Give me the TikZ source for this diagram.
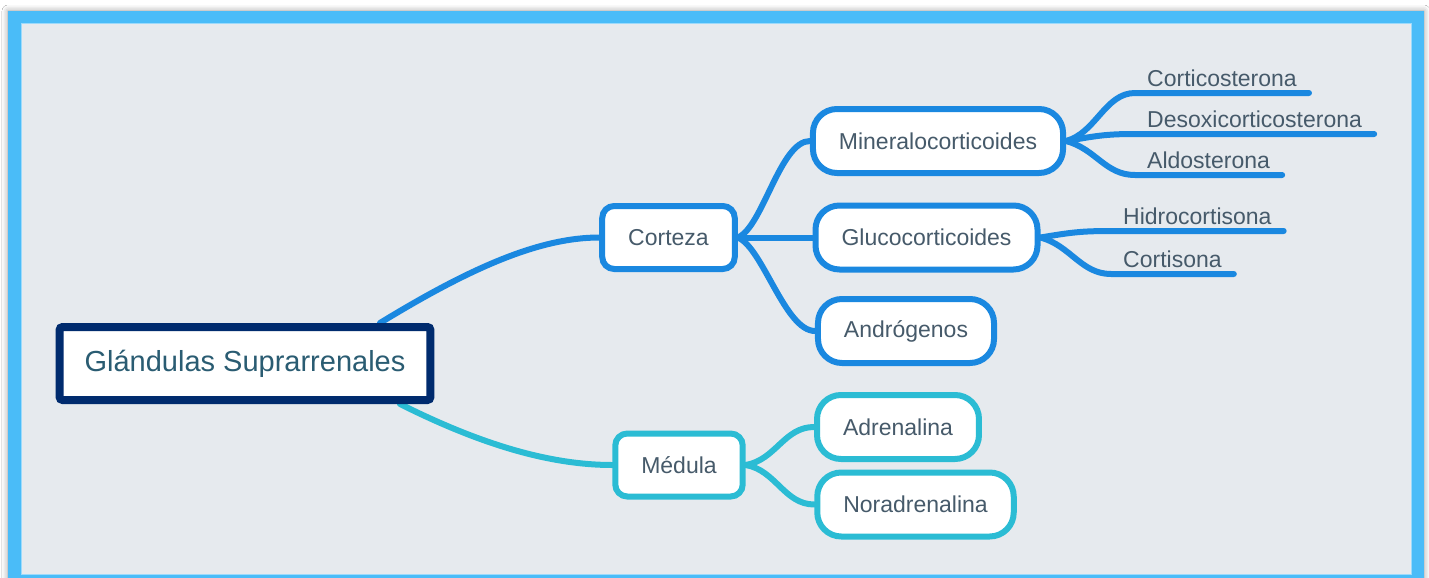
\documentclass[tikz,border=0pt]{standalone}
\usepackage{fontspec}
\setmainfont{Liberation Sans}
\usepackage{tikz}
\usetikzlibrary{positioning,shadows.blur}
\definecolor{frameblue}{HTML}{4ABCF8}
\definecolor{paper}{HTML}{E6EAEE}
\definecolor{cortexblue}{HTML}{1A88E0}
\definecolor{medcyan}{HTML}{2BBCD4}
\definecolor{rootnavy}{HTML}{002B6E}
\definecolor{ink}{HTML}{465A6A}
\definecolor{rootink}{HTML}{2A5C72}
\pgfdeclarelayer{back}
\pgfdeclarelayer{links}
\pgfsetlayers{back,links,main}
\tikzstyle{link} = [line width=6pt, line cap=round]
\tikzstyle{rootbox} = [
    rectangle, rounded corners=3pt, draw=rootnavy, line width=8pt, fill=white,
    text=rootink, inner xsep=25pt, minimum height=73pt, font=\fontsize{29}{34}\selectfont]
\tikzstyle{branch} = [
    rectangle, rounded corners=12pt, line width=6pt, fill=white, text=ink,
    inner xsep=26pt, minimum height=63pt, font=\fontsize{23}{27}\selectfont]
\tikzstyle{sub} = [branch, rounded corners=24pt, minimum height=64pt]
\tikzstyle{leaf} = [
    anchor=south west, text=ink, inner xsep=12pt, inner ysep=6.5pt, text depth=0pt,
    font=\fontsize{23}{27}\selectfont]

\begin{document}
\begin{tikzpicture}[x=1pt, y=-1pt]
\useasboundingbox (0,0) rectangle (1429,578);
\begin{pgfonlayer}{back}
\fill[white] (0,0) rectangle (1429,578);
\fill[frameblue, blur shadow={shadow xshift=0pt, shadow yshift=0pt, shadow blur radius=6pt, shadow opacity=40}] (8,11) rectangle (1424,600);
\fill[paper] (21,24) rectangle (1411,574);
\draw[white!45!frameblue, line width=1pt] (21,24) rectangle (1411,574);
\end{pgfonlayer}

\node (root) [rootbox] at (245,363.5) {Glándulas Suprarrenales};

\node (corteza) [branch, draw=cortexblue] at (668.5,237.5) {Corteza};
\node (medula) [branch, draw=medcyan] at (679,465) {Médula};

\node (mineral) [sub, draw=cortexblue] at (938,141) {Mineralocorticoides};
\node (gluco) [sub, draw=cortexblue] at (926.5,237.5) {Glucocorticoides};
\node (andro) [sub, draw=cortexblue] at (906,331) {Andrógenos};
\node (adren) [sub, draw=medcyan] at (898,427) {Adrenalina};
\node (noradren) [sub, draw=medcyan] at (915.5,504.5) {Noradrenalina};

\node (cortico) [leaf] at (1135,93) {Corticosterona};
\node (desoxi) [leaf] at (1135,134) {Desoxicorticosterona};
\node (aldo) [leaf] at (1135,175) {Aldosterona};
\node (hidro) [leaf] at (1111,231) {Hidrocortisona};
\node (cortis) [leaf] at (1111,274) {Cortisona};

\begin{pgfonlayer}{links}
\draw [link, cortexblue] ([xshift=135pt]root.north) .. controls +(90,-55) and +(-60,0) .. (corteza.west);
\draw [link, medcyan] ([xshift=155pt]root.south) .. controls +(70,35) and +(-70,0) .. (medula.west);
\draw [link, cortexblue] (corteza.east) .. controls +(25,-10) and +(-30,0) .. (mineral.west);
\draw [link, cortexblue] (corteza.east) -- (gluco.west);
\draw [link, cortexblue] (corteza.east) .. controls +(25,10) and +(-30,0) .. (andro.west);
\draw [link, medcyan] (medula.east) .. controls +(30,-5) and +(-30,0) .. (adren.west);
\draw [link, medcyan] (medula.east) .. controls +(30,5) and +(-30,0) .. (noradren.west);
\draw [link, cortexblue] (mineral.east) .. controls +(30,-8) and +(-30,0) .. (cortico.south west) -- (cortico.south east);
\draw [link, cortexblue] (mineral.east) .. controls +(30,-5) and +(-30,0) .. (desoxi.south west) -- (desoxi.south east);
\draw [link, cortexblue] (mineral.east) .. controls +(30,8) and +(-30,0) .. (aldo.south west) -- (aldo.south east);
\draw [link, cortexblue] (gluco.east) .. controls +(30,-5) and +(-30,0) .. (hidro.south west) -- (hidro.south east);
\draw [link, cortexblue] (gluco.east) .. controls +(30,8) and +(-30,0) .. (cortis.south west) -- (cortis.south east);
\end{pgfonlayer}
\end{tikzpicture}
\end{document}
